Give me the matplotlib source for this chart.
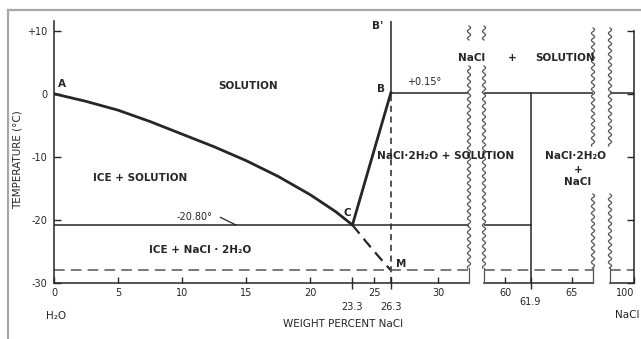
import matplotlib
matplotlib.use("Agg")
import matplotlib.pyplot as plt
import numpy as np
from matplotlib.lines import Line2D

# ---- phase-diagram data (weight % NaCl, temperature in °C) ----
ice_liquidus_x = [0, 2.5, 5, 7.5, 10, 12.5, 15, 17.5, 20, 22, 23.3]
ice_liquidus_t = [0, -1.2, -2.6, -4.4, -6.4, -8.4, -10.6, -13.1, -16.0, -18.7, -20.8]

hydrate_liquidus_x = [23.3, 24.2, 25.2, 26.3]
hydrate_liquidus_t = [-20.8, -14.5, -7.5, 0.15]

metastable_x = [23.3, 24.3, 25.3, 26.3]
metastable_t = [-20.8, -23.3, -25.7, -28.0]

eutectic_t = -20.8
peritectic_t = 0.15
metastable_eutectic_t = -28.0
hydrate_comp = 26.3
eutectic_comp = 23.3
hydrate_solid = 61.9

xticks_1 = [0, 5, 10, 15, 20, 25, 30]
xticks_1_special = [23.3, 26.3]
xticks_2 = [60, 65]
xticks_2_special = [61.9]
xticks_3 = [100]
yticks = [-30, -20, -10, 0, 10]
ytick_labels = ["-30", "-20", "-10", "0", "+10"]

INK = "#262626"
W, H = 641, 339
fig = plt.figure(figsize=(W / 100, H / 100), dpi=100)


def fx(px):
    return np.asarray(px) / W


def fy(py):
    return 1 - np.asarray(py) / H


Y_TOP, Y_BOT = 20.6, 283
T_LIM = (-30, 11.6)


def add_panel(x0, x1, xlim):
    ax = fig.add_axes([fx(x0), fy(Y_BOT), (x1 - x0) / W, (Y_BOT - Y_TOP) / H])
    ax.set_xlim(*xlim)
    ax.set_ylim(*T_LIM)
    ax.patch.set_alpha(0)
    for s in ax.spines.values():
        s.set_color(INK)
        s.set_linewidth(1.1)
    ax.tick_params(colors=INK, labelcolor=INK, width=1, labelsize=7)
    return ax


ax1 = add_panel(54, 469, (0, 32.4))
ax2 = add_panel(484, 593, (58.4, 66.6))
ax3 = add_panel(610, 634, (98.2, 100))

# spines
ax1.spines[["top", "right"]].set_visible(False)
ax2.spines[["top", "right", "left"]].set_visible(False)
ax3.spines[["top", "left"]].set_visible(False)
ax3.spines["right"].set_bounds(-30, 10)

dash = (0, (7, 4))

# panel 1: water-rich side
ax1.plot(ice_liquidus_x, ice_liquidus_t, color=INK, lw=2.0, solid_capstyle="round")
ax1.plot(hydrate_liquidus_x, hydrate_liquidus_t, color=INK, lw=2.0)
ax1.plot(metastable_x, metastable_t, color=INK, lw=1.6, ls=(0, (5, 3)))
ax1.axhline(eutectic_t, color=INK, lw=1.1)
ax1.plot([hydrate_comp, hydrate_comp], [peritectic_t, T_LIM[1]], color=INK, lw=1.1)
ax1.plot([hydrate_comp, hydrate_comp], [T_LIM[0], peritectic_t], color=INK, lw=1.1, ls=(0, (4, 3)))
ax1.plot([hydrate_comp, 32.4], [peritectic_t, peritectic_t], color=INK, lw=1.1)
ax1.axhline(metastable_eutectic_t, color="#555555", lw=1.1, ls=dash)
ax1.plot([13.0, 14.2], [-19.6, eutectic_t], color=INK, lw=0.9)

# panel 2: hydrate composition
ax2.axhline(peritectic_t, color=INK, lw=1.1)
ax2.plot([58.4, hydrate_solid], [eutectic_t, eutectic_t], color=INK, lw=1.1)
ax2.plot([hydrate_solid, hydrate_solid], [T_LIM[0], peritectic_t], color=INK, lw=1.1)
ax2.axhline(metastable_eutectic_t, color="#555555", lw=1.1, ls=dash)

# panel 3: pure NaCl
ax3.axhline(peritectic_t, color=INK, lw=1.1)
ax3.axhline(metastable_eutectic_t, color="#555555", lw=1.1, ls=dash)

# ticks
ax1.set_yticks(yticks)
ax1.set_yticklabels(ytick_labels)
ax1.tick_params(axis="y", direction="in", length=5, pad=4.5)
ax1.set_xticks(xticks_1)
ax1.set_xticklabels([str(v) for v in xticks_1])
ax1.tick_params(axis="x", direction="in", length=4, pad=3.5)
ax1.set_xticks(xticks_1_special, minor=True)
ax1.set_xticklabels([f"{v:.1f}" for v in xticks_1_special], minor=True)
ax1.tick_params(axis="x", which="minor", direction="inout", length=8, width=1,
                pad=10, labelsize=7, colors=INK)

ax2.set_yticks([])
ax2.set_xticks(xticks_2)
ax2.set_xticklabels([str(v) for v in xticks_2])
ax2.tick_params(axis="x", direction="in", length=4, pad=3.5)
ax2.set_xticks(xticks_2_special, minor=True)
ax2.set_xticklabels([f"{v:.1f}" for v in xticks_2_special], minor=True)
ax2.tick_params(axis="x", which="minor", direction="inout", length=8, width=1,
                pad=6, labelsize=7, colors=INK)

ax3.set_xticks(xticks_3)
ax3.set_xticklabels([str(v) for v in xticks_3], ha="right")
ax3.tick_params(axis="x", direction="in", length=4, pad=3.5)
ax3.yaxis.tick_right()
ax3.set_yticks(yticks)
ax3.tick_params(axis="y", direction="in", length=5, labelright=False)


# axis-break squiggles
def squiggle(xp, y0, y1, amp=1.6, wl=7.0):
    ys = np.linspace(y0, y1, 300)
    xs = xp + amp * np.sin(2 * np.pi * (ys - y0) / wl)
    fig.add_artist(Line2D(fx(xs), fy(ys), transform=fig.transFigure,
                          color="#555555", lw=0.9))


def stub(xp, y0, y1):
    fig.add_artist(Line2D(fx([xp, xp]), fy([y0, y1]), transform=fig.transFigure,
                          color="#555555", lw=0.9))


for xp in (469, 484):
    squiggle(xp, 26, 40)
    squiggle(xp, 66, 268)
    stub(xp, 268, 283)
for xp in (593, 610):
    squiggle(xp, 28, 146)
    squiggle(xp, 194, 268)
    stub(xp, 268, 283)

# frame lines
fig.add_artist(Line2D(fx([9, 641]), fy([10, 10]), transform=fig.transFigure,
                      color="#a8a8a8", lw=1.6))
fig.add_artist(Line2D(fx([8, 8]), fy([10, 339]), transform=fig.transFigure,
                      color="#a8a8a8", lw=1.6))


def label(px, py, s, size=7.5, ha="center", weight="bold", **kw):
    fig.text(fx(px), fy(py), s, ha=ha, va="center", fontsize=size, color=INK,
             family="DejaVu Sans", fontweight=weight, **kw)


label(248, 86, "SOLUTION")
label(62, 84, "A")
label(140, 178, "ICE + SOLUTION")
label(194, 217, "-20.80°", size=7, weight="normal")
label(200, 250, "ICE + NaCl · 2H₂O")
label(347, 213, "C")
label(401, 264, "M")
label(381, 89, "B")
label(378, 26, "B'")
label(424, 82, "+0.15°", size=7, weight="normal")
label(472, 58, "NaCl")
label(512, 58, "+")
label(565, 58, "SOLUTION")
label(446, 156, "NaCl·2H₂O + SOLUTION", size=7.6)
label(575, 156, "NaCl·2H₂O", size=7.6)
label(578, 170, "+", size=7.5)
label(578, 182, "NaCl", size=7.5)
label(56, 316, "H₂O", weight="normal")
label(343, 324, "WEIGHT PERCENT NaCl", size=7.5, weight="normal")
label(615, 315, "NaCl", ha="left", weight="normal")
label(18, 160, "TEMPERATURE (°C)", size=7.5, rotation=90, weight="normal")

fig.savefig("out.png", dpi=100)
